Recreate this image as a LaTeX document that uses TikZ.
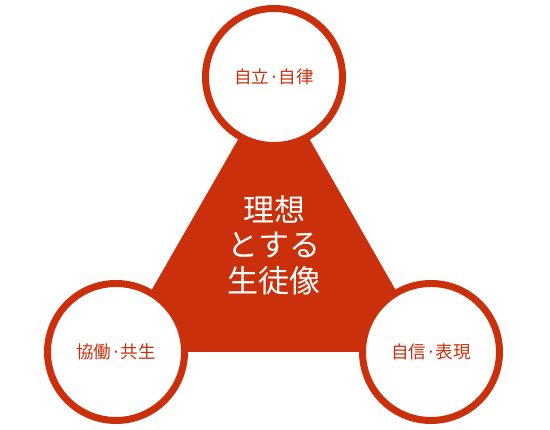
\documentclass[tikz,border=0pt]{standalone}
\usepackage{fontspec}
\newfontfamily\cjk{Noto Sans CJK JP}
\definecolor{tred}{HTML}{C9300B}
\begin{document}
\begin{tikzpicture}[x=1pt,y=1pt,
  circ/.style={circle, draw=tred, fill=white, line width=7pt, minimum size=137pt, inner sep=0pt, text=tred, font=\cjk\fontsize{17.5}{20}\selectfont},
  centertext/.style={text=white, align=center, font=\cjk\fontsize{31}{35.5}\selectfont}]
\useasboundingbox (0,0) rectangle (550,430);
\coordinate (A) at (274,353);
\coordinate (B) at (116,78);
\coordinate (C) at (431,78);
\fill[tred] (A) -- (B) -- (C) -- cycle;
\node[circ] (top) at (A) {自立·自律};
\node[circ] (left) at (B) {協働·共生};
\node[circ] (right) at (C) {自信·表現};
\node[centertext] (mid) at (274,185) {理想\\とする\\生徒像};
\end{tikzpicture}
\end{document}
